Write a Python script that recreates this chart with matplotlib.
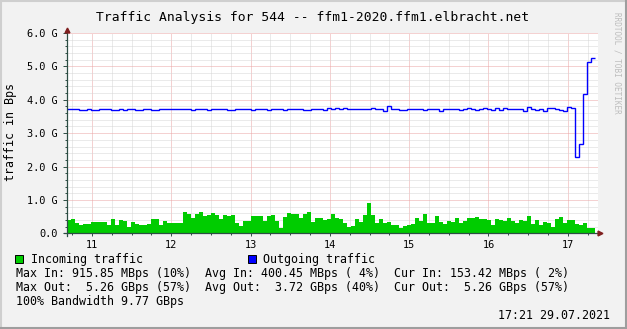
import numpy as np
import matplotlib
matplotlib.use("Agg")
import matplotlib.pyplot as plt
from matplotlib.ticker import MultipleLocator

# sample times (days of month) - one sample every ~1.2 h
start_day = 10.685
step_days = 0.05044

# incoming traffic, GBps per sample
incoming = [
    0.39, 0.44, 0.32, 0.26, 0.29, 0.29, 0.35, 0.35, 0.35, 0.35, 0.26, 0.44,
    0.26, 0.41, 0.38, 0.20, 0.35, 0.29, 0.26, 0.26, 0.29, 0.44, 0.44, 0.26,
    0.38, 0.32, 0.32, 0.32, 0.32, 0.65, 0.59, 0.47, 0.59,
    0.65, 0.53, 0.56, 0.62, 0.56, 0.44, 0.56, 0.53, 0.56, 0.32, 0.23, 0.38,
    0.38, 0.53, 0.53, 0.53, 0.38, 0.53, 0.56, 0.38, 0.17, 0.50, 0.62, 0.59,
    0.59, 0.47, 0.59, 0.65, 0.35, 0.47, 0.47, 0.41,
    0.44, 0.59, 0.47, 0.44, 0.32, 0.20, 0.23, 0.44, 0.35, 0.56, 0.92, 0.56,
    0.32, 0.44, 0.32, 0.35, 0.26, 0.26, 0.17, 0.23, 0.26, 0.29, 0.47, 0.38,
    0.59, 0.32, 0.32, 0.53, 0.35, 0.29, 0.38, 0.35, 0.47,
    0.32, 0.38, 0.47, 0.47, 0.50, 0.44, 0.44, 0.41, 0.26, 0.44, 0.41, 0.38,
    0.47, 0.38, 0.32, 0.41, 0.38, 0.53, 0.29, 0.41, 0.26, 0.35, 0.32, 0.20,
    0.44, 0.50, 0.32, 0.41, 0.41, 0.29, 0.26, 0.32, 0.17, 0.17,
]

# outgoing traffic, GBps per sample
outgoing = [
    3.72, 3.72, 3.72, 3.69, 3.69, 3.72, 3.69, 3.69, 3.72, 3.72, 3.72, 3.69,
    3.69, 3.72, 3.69, 3.72, 3.72, 3.69, 3.69, 3.72, 3.72, 3.69, 3.69, 3.72,
    3.72, 3.72, 3.72, 3.72, 3.72, 3.72, 3.72, 3.69,
    3.72, 3.72, 3.72, 3.69, 3.72, 3.72, 3.72, 3.72, 3.69, 3.69, 3.72, 3.72,
    3.72, 3.72, 3.69, 3.72, 3.72, 3.72, 3.69, 3.72, 3.72, 3.72, 3.69, 3.72,
    3.72, 3.72, 3.72, 3.69, 3.69, 3.72, 3.72, 3.72, 3.69,
    3.76, 3.72, 3.76, 3.72, 3.75, 3.72, 3.72, 3.72, 3.72, 3.72, 3.72, 3.75,
    3.72, 3.72, 3.65, 3.80,
    3.72, 3.72, 3.70, 3.70, 3.72, 3.72, 3.72, 3.72, 3.70, 3.72, 3.72, 3.72,
    3.65, 3.72, 3.72, 3.72, 3.72, 3.70, 3.72, 3.76, 3.72, 3.70, 3.72, 3.74,
    3.72, 3.70, 3.76, 3.70, 3.76, 3.72, 3.72, 3.72, 3.72, 3.65, 3.78, 3.72,
    3.70, 3.72, 3.65, 3.76, 3.76, 3.72, 3.70, 3.65, 3.78, 3.76,
    2.29, 2.67, 4.18, 5.14, 5.26,
]

day_ticks = [11, 12, 13, 14, 15, 16, 17]
y_ticks = [0, 1, 2, 3, 4, 5, 6]
y_labels = ["0.0", "1.0 G", "2.0 G", "3.0 G", "4.0 G", "5.0 G", "6.0 G"]

legend_lines = [
    "Max In: 915.85 MBps (10%)  Avg In: 400.45 MBps ( 4%)  Cur In: 153.42 MBps ( 2%)",
    "Max Out:  5.26 GBps (57%)  Avg Out:  3.72 GBps (40%)  Cur Out:  5.26 GBps (57%)",
    "100% Bandwidth 9.77 GBps",
]

W, H = 627, 329
BACK = "#F2F2F2"
AXIS = "#2C4D43"
ARROW = "#7F1F1F"
MONO = "DejaVu Sans Mono"

fig = plt.figure(figsize=(W / 100, H / 100), dpi=100, facecolor=BACK)
ax = fig.add_axes([67 / W, (H - 233.3) / H, (598 - 67) / W, 200.3 / H])
ax.set_facecolor("white")

edges = start_day + step_days * np.arange(len(incoming) + 1)
ax.stairs(incoming, edges, fill=True, color="#00CC00", baseline=0, zorder=2)
ax.stairs(outgoing, edges, color="#0000FF", baseline=None, linewidth=1.0, zorder=3)

ax.set_xlim(start_day, 17.381)
ax.set_ylim(0, 6)

# grid
ax.set_axisbelow(True)
ax.xaxis.set_major_locator(plt.FixedLocator(day_ticks))
ax.xaxis.set_minor_locator(MultipleLocator(0.25))
ax.yaxis.set_major_locator(plt.FixedLocator(y_ticks))
ax.yaxis.set_minor_locator(MultipleLocator(0.2))
ax.grid(which="minor", color="#D6D6D6", linestyle=(0, (1, 1)), linewidth=0.72)
ax.grid(which="major", color="#EBA5A5", linestyle=(0, (1, 1)), linewidth=0.72)

ax.set_xticklabels([str(d) for d in day_ticks])
ax.set_yticklabels(y_labels)
ax.tick_params(axis="both", which="both", color=AXIS, width=0.7, labelsize=7.4,
               labelfontfamily=MONO)
ax.tick_params(axis="y", which="major", length=3, pad=3.6)
ax.tick_params(axis="y", which="minor", length=1.5)
ax.tick_params(axis="x", which="major", length=2, pad=3)
ax.tick_params(axis="x", which="minor", length=1.5)

for s in ax.spines.values():
    s.set_visible(False)

# axis lines with arrows
ax.plot([10.648, 17.393], [0, 0], color=AXIS, lw=0.9, clip_on=False, zorder=4)
ax.plot([start_day, start_day], [-0.09, 6.08], color=AXIS, lw=0.9, clip_on=False, zorder=4)
ax.plot([17.405], [0], marker=">", color=ARROW, markersize=3.5, clip_on=False, zorder=5)
ax.plot([start_day], [6.1], marker="^", color=ARROW, markersize=3.5, clip_on=False, zorder=5)

# texts
fig.text(313 / W, 1 - 21 / H, "Traffic Analysis for 544 -- ffm1-2020.ffm1.elbracht.net",
         family=MONO, fontsize=9.4, ha="center", va="baseline")
fig.text(11 / W, 1 - 132 / H, "traffic in Bps", family=MONO, fontsize=8.4,
         rotation=90, ha="center", va="center")
fig.text(617 / W, 1 - 12 / H, "RRDTOOL / TOBI OETIKER", family=MONO, fontsize=5.5,
         color="#BDBDBD", rotation=270, ha="center", va="top")

fs = 8.4
fig.patches.append(plt.Rectangle((15 / W, 1 - 263 / H), 8 / W, 8 / H, transform=fig.transFigure,
                                 facecolor="#00CC00", edgecolor="black", linewidth=0.7))
fig.text(31 / W, 1 - 263 / H, "Incoming traffic", family=MONO, fontsize=fs, va="baseline")
fig.patches.append(plt.Rectangle((248 / W, 1 - 263 / H), 8 / W, 8 / H, transform=fig.transFigure,
                                 facecolor="#0000FF", edgecolor="black", linewidth=0.7))
fig.text(263 / W, 1 - 263 / H, "Outgoing traffic", family=MONO, fontsize=fs, va="baseline")
for i, line in enumerate(legend_lines):
    fig.text(16 / W, 1 - (277.3 + 14 * i) / H, line, family=MONO, fontsize=fs, va="baseline")
fig.text(610 / W, 1 - 319 / H, "17:21 29.07.2021", family=MONO, fontsize=fs,
         ha="right", va="baseline")

# frame: light top/left, dark bottom/right
fig.add_artist(plt.Line2D([0, 1], [1 - 0.5 / H, 1 - 0.5 / H], color="#CFCFCF", lw=1.5))
fig.add_artist(plt.Line2D([0.5 / W, 0.5 / W], [0, 1], color="#CFCFCF", lw=1.5))
fig.add_artist(plt.Line2D([0, 1], [1 / H, 1 / H], color="#9E9E9E", lw=1.5))
fig.add_artist(plt.Line2D([1 - 1 / W, 1 - 1 / W], [0, 1], color="#9E9E9E", lw=1.5))

fig.savefig("out.png", dpi=100, facecolor=BACK)
